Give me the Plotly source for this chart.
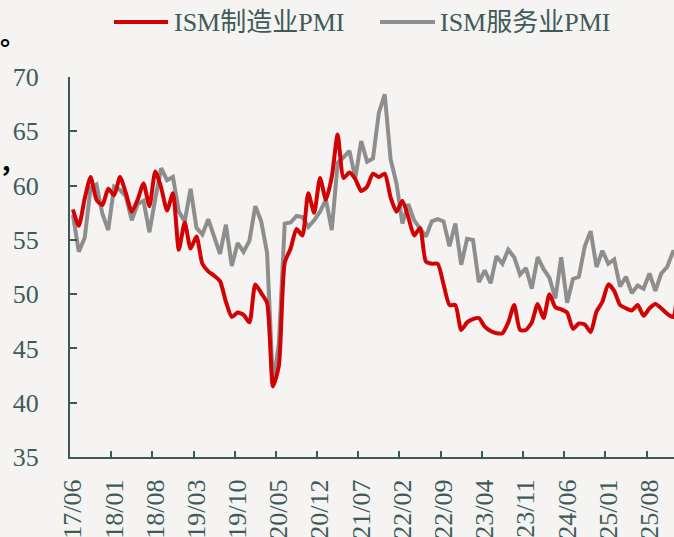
import plotly.graph_objects as go
import pandas as pd

# Month categories (17/06 ... 26/01)
months = pd.date_range("2017-06-01", "2026-01-01", freq="MS").strftime("%y/%m").tolist()

mfg_pmi = [
    57.8, 56.3, 58.8, 60.8, 58.7, 58.2, 59.7,              # 2017/06-12
    59.1, 60.8, 59.3, 57.6, 58.7, 60.2, 58.1, 61.3, 59.8, 57.7, 59.3, 54.1,  # 2018
    56.6, 54.2, 55.3, 52.8, 52.1, 51.7, 51.2, 49.3, 47.9, 48.3, 48.1, 47.4,  # 2019
    50.9, 50.1, 49.2, 41.5, 43.4, 52.9, 54.2, 56.0, 55.4, 59.3, 57.5, 60.7,  # 2020
    58.7, 60.8, 64.7, 60.7, 61.2, 60.6, 59.5, 59.9, 61.1, 60.8, 61.1, 58.9,  # 2021
    57.6, 58.6, 57.1, 55.4, 56.1, 53.0, 52.8, 52.8, 50.9, 49.0, 49.0, 46.7,  # 2022
    47.4, 47.7, 47.8, 47.0, 46.6, 46.4, 46.4, 47.4, 49.0, 46.7, 46.7, 47.4,  # 2023
    49.1, 47.8, 50.0, 48.8, 48.6, 48.3, 46.8, 47.3, 47.2, 46.5, 48.4, 49.3,  # 2024
    50.9, 50.3, 49.0, 48.7, 48.5, 49.0, 48.0, 48.7, 49.1, 48.7, 48.2, 47.9,  # 2025
    52.6,                                                    # 2026/01
]

svc_pmi = [
    57.3, 53.9, 55.2, 59.8, 60.1, 57.4, 55.9,              # 2017/06-12
    59.9, 59.6, 59.0, 56.8, 58.3, 58.6, 55.7, 58.8, 61.6, 60.5, 60.8, 57.6,  # 2018
    56.7, 59.7, 56.1, 55.5, 56.9, 55.3, 53.7, 56.4, 52.6, 54.7, 53.9, 54.9,  # 2019
    58.1, 56.7, 53.8, 41.7, 45.4, 56.5, 56.6, 57.2, 57.1, 56.2, 56.8, 57.6,  # 2020
    58.7, 55.9, 62.1, 62.6, 63.2, 60.7, 64.1, 62.2, 62.5, 66.7, 68.4, 62.4,  # 2021
    60.2, 56.5, 58.3, 56.8, 56.1, 55.3, 56.7, 56.9, 56.7, 54.4, 56.5, 52.7,  # 2022
    55.1, 55.0, 51.1, 52.2, 51.0, 53.5, 52.8, 54.1, 53.4, 51.8, 52.4, 50.5,  # 2023
    53.4, 52.3, 51.5, 49.6, 53.4, 49.2, 51.4, 51.6, 54.4, 55.8, 52.5, 54.0,  # 2024
    52.8, 53.2, 50.7, 51.6, 50.1, 50.8, 50.5, 51.9, 50.3, 51.9, 52.5, 53.9,  # 2025
    53.8,                                                    # 2026/01
]

series_names = ["ISM制造业PMI", "ISM服务业PMI"]
y_ticks = [35, 40, 45, 50, 55, 60, 65, 70]

RED = "#d20000"
GRAY = "#8e8e8e"
TXT = "#405a5a"
AX = "#3d5858"
BG = "#f5f4f2"
FONT = "Liberation Serif, Noto Sans CJK SC"

fig = go.Figure()
fig.add_trace(go.Scatter(x=months, y=svc_pmi, mode="lines", name=series_names[1],
                         line=dict(color=GRAY, width=4), showlegend=False))
fig.add_trace(go.Scatter(x=months, y=mfg_pmi, mode="lines", name=series_names[0],
                         line=dict(color=RED, width=4, shape="spline", smoothing=0.6),
                         showlegend=False))

W, H = 674, 537
L, R, T, B = 70, 0, 77, 80
pw, ph = W - L - R, H - T - B

def px(x):
    return (x - L) / pw

def py(y):
    return (H - B - y) / ph

# manual legend
legend_items = [(114, 168, 172, RED, series_names[0]), (380, 435, 438, GRAY, series_names[1])]
for x0, x1, xt, col, name in legend_items:
    fig.add_shape(type="line", xref="paper", yref="paper", x0=px(x0), x1=px(x1),
                  y0=py(22), y1=py(22), line=dict(color=col, width=4))
    fig.add_annotation(xref="paper", yref="paper", x=px(xt), y=py(22), text=name,
                       showarrow=False, xanchor="left", yanchor="middle",
                       font=dict(family=FONT, size=26, color=TXT))

# cropped stray punctuation at far left (remnants of neighbouring text)
fig.add_annotation(xref="paper", yref="paper", x=px(-2), y=py(33), text="<b>。</b>",
                   showarrow=False, xanchor="left", yanchor="middle", width=12,
                   align="left",
                   font=dict(family="Noto Sans CJK SC", size=26, color="#000000"))
fig.add_annotation(xref="paper", yref="paper", x=px(-3), y=py(160), text="<b>，</b>",
                   showarrow=False, xanchor="left", yanchor="middle", width=12,
                   align="left",
                   font=dict(family="Noto Sans CJK SC", size=26, color="#000000"))

fig.update_layout(
    width=W, height=H,
    margin=dict(l=L, r=R, t=T, b=B, pad=0, autoexpand=False),
    paper_bgcolor=BG, plot_bgcolor=BG,
    font=dict(family=FONT, size=26, color=TXT),
    showlegend=False,
)
fig.update_xaxes(
    type="category", range=[-0.5, 102.17], automargin=False,
    tickmode="linear", tick0=0, dtick=7, tickson="boundaries",
    ticks="inside", ticklen=6, tickwidth=2, tickcolor=AX,
    showline=True, linewidth=2, linecolor=AX, showgrid=False, zeroline=False,
    tickangle=-90, tickfont=dict(family=FONT, size=26, color=TXT),
    ticklabelstandoff=10,
)
fig.update_yaxes(
    range=[35, 70], tickmode="array", tickvals=y_ticks, automargin=False,
    ticks="inside", ticklen=7, tickwidth=2, tickcolor=AX,
    showline=True, linewidth=2, linecolor=AX, showgrid=False, zeroline=False,
    tickfont=dict(family=FONT, size=26, color=TXT),
    ticklabelstandoff=24,
)

fig.write_html(
    "out.html",
    config={"displayModeBar": False},
    post_script="document.body.style.margin='0';document.body.style.background='#f5f4f2';"
                "document.documentElement.style.overflow='hidden';",
)
